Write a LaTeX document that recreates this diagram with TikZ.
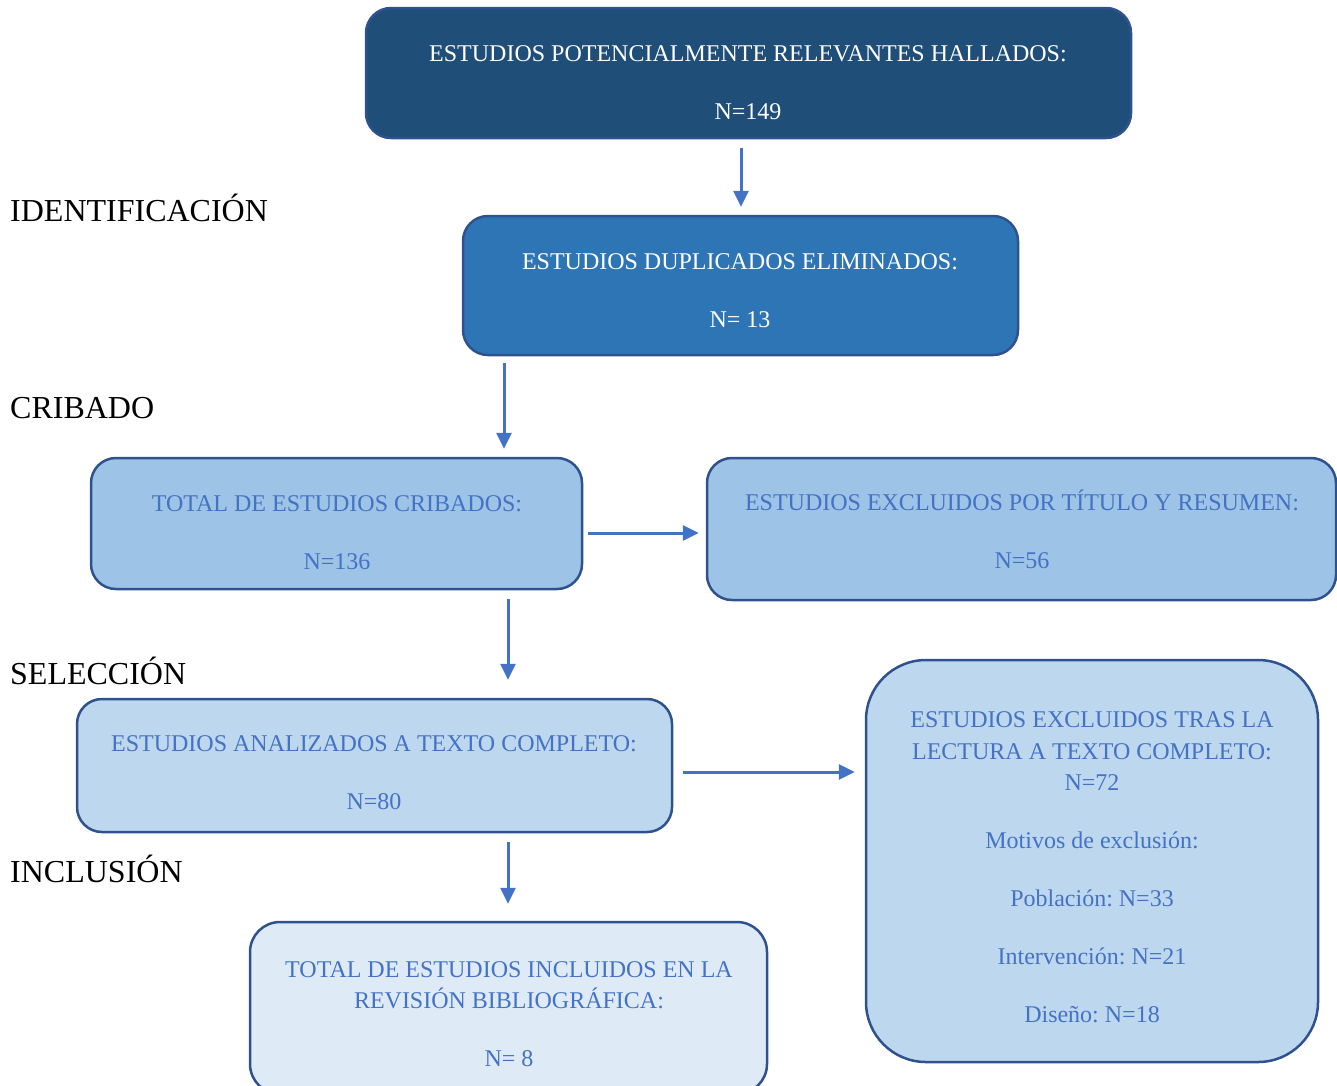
\documentclass[tikz,border=0pt]{standalone}
\usepackage{fontspec}
\setmainfont{Liberation Serif}
\usetikzlibrary{arrows.meta}
\frenchspacing
\definecolor{bdark}{HTML}{1F4E79}
\definecolor{bmid}{HTML}{2E75B6}
\definecolor{blight}{HTML}{9DC3E6}
\definecolor{blighter}{HTML}{BDD7EE}
\definecolor{bpale}{HTML}{DEEBF7}
\definecolor{bborder}{HTML}{2F528F}
\definecolor{btext}{HTML}{4472C4}
\tikzset{
  boxbase/.style={draw=bborder, line width=2.5pt, rounded corners=25pt, inner sep=0pt},
  txt/.style={align=center, inner sep=0pt, font=\fontsize{24}{31.5}\selectfont\frenchspacing},
  txtw/.style={txt, text=white},
  txtb/.style={txt, text=btext},
  sect/.style={anchor=base west, inner sep=0pt, font=\fontsize{32}{38}\selectfont, text=black},
  conn/.style={draw=btext, line width=3pt, -{Triangle[length=16pt,width=15pt]}}
}
\begin{document}
\begin{tikzpicture}[x=1pt,y=-1pt]
\useasboundingbox (0,0) rectangle (1337,1085);
% boxes
\node[boxbase, fill=bdark, minimum width=765pt, minimum height=130pt] (b1) at (748.5,73) {};
\node[boxbase, fill=bmid, minimum width=555pt, minimum height=139pt] (b2) at (740.5,285.5) {};
\node[boxbase, fill=blight, minimum width=491pt, minimum height=131pt] (b3) at (336.5,523.5) {};
\node[boxbase, fill=blight, minimum width=629pt, minimum height=142pt] (b4) at (1021.5,529) {};
\node[boxbase, fill=blighter, minimum width=595pt, minimum height=133pt] (b5) at (374.5,765.5) {};
\node[boxbase, fill=blighter, rounded corners=60pt, minimum width=452pt, minimum height=402pt] (b6) at (1092,861) {};
\node[boxbase, fill=bpale, rounded corners=30pt, minimum width=517pt, minimum height=172pt] (b7) at (508.5,1008) {};
% texts
\node[txtw] (t1) at (748,83) {ESTUDIOS POTENCIALMENTE RELEVANTES HALLADOS:\\[26.5pt]N=149};
\node[txtw] (t2) at (740,291) {ESTUDIOS DUPLICADOS ELIMINADOS:\\[26.5pt]N= 13};
\node[txtb] (t3) at (337,532.5) {TOTAL DE ESTUDIOS CRIBADOS:\\[26.5pt]N=136};
\node[txtb] (t4) at (1022,529.5) {ESTUDIOS EXCLUIDOS POR TÍTULO Y RESUMEN:\\[26.5pt]N=56};
\node[txtb] (t5) at (374,773) {ESTUDIOS ANALIZADOS A TEXTO COMPLETO:\\[26.5pt]N=80};
\node[txtb] (t6) at (1092,867.5) {ESTUDIOS EXCLUIDOS TRAS LA\\LECTURA A TEXTO COMPLETO:\\N=72\\[26.5pt]Motivos de exclusión:\\[26.5pt]Población: N=33\\[26.5pt]Intervención: N=21\\[26.5pt]Diseño: N=18};
\node[txtb] (t7) at (509,1014) {TOTAL DE ESTUDIOS INCLUIDOS EN LA\\REVISIÓN BIBLIOGRÁFICA:\\[26.5pt]N= 8};
% section labels
\node[sect] (s1) at (10,221) {IDENTIFICACIÓN};
\node[sect] (s2) at (10,418) {CRIBADO};
\node[sect] (s3) at (10,684) {SELECCIÓN};
\node[sect] (s4) at (10,882) {INCLUSIÓN};
% connector anchors
\coordinate (xa) at (741,0);
\coordinate (xb) at (504,0);
\coordinate (xc) at (508,0);
\coordinate (ya) at (0,533);
\coordinate (yb) at (0,772);
% connectors
\draw[conn, shorten <=9pt, shorten >=8pt] (b1.south -| xa) -- (b2.north -| xa);
\draw[conn, shorten <=7pt, shorten >=8pt] (b2.south -| xb) -- (b3.north -| xb);
\draw[conn, shorten <=5pt, shorten >=7pt] (b3.east |- ya) -- (b4.west |- ya);
\draw[conn, shorten <=9pt, shorten >=18pt] (b3.south -| xc) -- (b5.north -| xc);
\draw[conn, shorten <=10pt, shorten >=10pt] (b5.east |- yb) -- (b6.west |- yb);
\draw[conn, shorten <=9pt, shorten >=17pt] (b5.south -| xc) -- (b7.north -| xc);
\end{tikzpicture}
\end{document}
